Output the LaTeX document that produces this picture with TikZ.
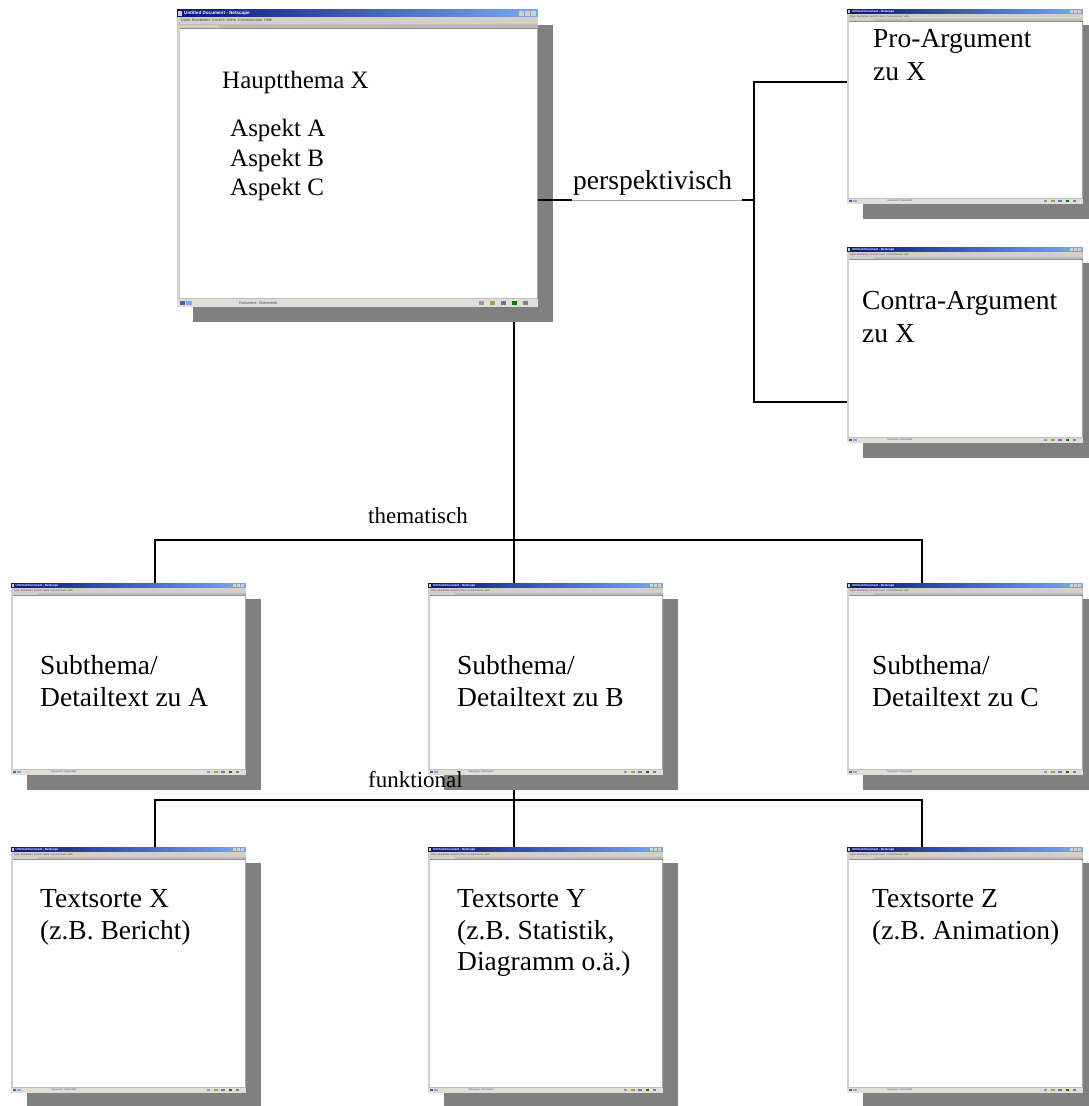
\documentclass[tikz,border=0pt]{standalone}
\usepackage{fontspec}
\setmainfont{Liberation Serif}
\newfontfamily\uifont{Liberation Sans}
\usetikzlibrary{calc,shadows,backgrounds}

\definecolor{shadowgray}{RGB}{128,128,128}
\definecolor{ttlA}{RGB}{8,20,120}
\definecolor{ttlB}{RGB}{120,170,235}
\definecolor{menugray}{RGB}{212,208,200}
\definecolor{bargray}{RGB}{190,186,180}
\definecolor{edgegray}{RGB}{170,170,170}

\tikzset{
  win/.style={draw=edgegray, line width=0.5pt, fill=white, inner sep=0pt, anchor=north west,
    drop shadow={shadow xshift=16pt, shadow yshift=-16pt, fill=shadowgray, opacity=1}},
  lbl/.style={anchor=base west, inner sep=0pt, font=\fontsize{25}{30}\selectfont},
  wlbl/.style={anchor=base west, inner sep=0pt, font=\fontsize{27.5}{32}\selectfont},
  linklbl/.style={anchor=base west, inner sep=0pt, font=\fontsize{23}{28}\selectfont},
  conn/.style={line width=1.6pt, black},
  faint/.style={line width=0.8pt, gray!70},
  uitext/.style={anchor=west, inner sep=0pt},
}

% browser window decoration drawn on top of a window node
\newcommand\chrome[2]{%
  \pgfmathsetmacro\cs{#2}%
  \pgfmathsetmacro\tfs{4.6*#2}%
  \pgfmathsetmacro\mfs{3.8*#2}%
  % title bar
  \shade[left color=ttlA, right color=ttlB] (#1.north west) rectangle ($(#1.north east)+(0,8*\cs)$);
  \fill[menugray] ($(#1.north west)+(1*\cs,1.5*\cs)$) rectangle ++(4*\cs,5*\cs);
  \foreach \k in {1,2,3}
    \fill[menugray] ($(#1.north east)+(-\k*6*\cs-1*\cs,1.5*\cs)$) rectangle ++(5*\cs,5*\cs);
  \node[uitext, text=white, font=\uifont\bfseries\fontsize{\tfs}{\tfs}\selectfont]
    (#1-title) at ($(#1.north west)+(7*\cs,4*\cs)$) {Untitled Document - Netscape};
  % menu bar
  \fill[menugray] ($(#1.north west)+(0,8*\cs)$) rectangle ($(#1.north east)+(0,15*\cs)$);
  \node[uitext, text=black!70, font=\uifont\fontsize{\mfs}{\mfs}\selectfont]
    (#1-menu) at ($(#1.north west)+(4*\cs,11.5*\cs)$)
    {Datei\enspace Bearbeiten\enspace Ansicht\enspace Gehe\enspace Communicator\enspace Hilfe};
  % toolbar strip with tab
  \fill[bargray] ($(#1.north west)+(0,15*\cs)$) rectangle ($(#1.north east)+(0,19*\cs)$);
  \fill[menugray] ($(#1.north west)+(0,15.5*\cs)$) -- ++(40*\cs,0) -- ++(4*\cs,3.5*\cs) -- ++(-44*\cs,0) -- cycle;
  \draw[black!45, line width=0.4pt] ($(#1.north west)+(0,19*\cs)$) -- ($(#1.north east)+(0,19*\cs)$);
  % left frame
  \fill[menugray] ($(#1.north west)+(0,19*\cs)$) rectangle ($(#1.south west)+(3*\cs,0)$);
  % status bar
  \fill[menugray!70!white] ($(#1.south west)+(0,-8*\cs)$) rectangle (#1.south east);
  \draw[black!25, line width=0.4pt] ($(#1.south west)+(0,-8*\cs)$) -- ($(#1.south east)+(0,-8*\cs)$);
  \fill[ttlA!70] ($(#1.south west)+(3*\cs,-6*\cs)$) rectangle ++(5*\cs,4*\cs);
  \fill[ttlB] ($(#1.south west)+(9*\cs,-6*\cs)$) rectangle ++(6*\cs,4*\cs);
  \node[uitext, text=black!70, font=\uifont\fontsize{\mfs}{\mfs}\selectfont]
    (#1-status) at ($(#1.south west)+(62*\cs,-4*\cs)$) {Dokument: Übermittelt};
  \foreach \k/\c in {1/black!50,2/green!50!black,3/ttlA!60,4/yellow!60!black,5/black!40}
    \fill[\c] ($(#1.south east)+(-\k*11*\cs-4*\cs,-6*\cs)$) rectangle ++(5*\cs,4*\cs);
}

\begin{document}
\begin{tikzpicture}[x={(1pt,0)}, y={(0,-1pt)}]
\useasboundingbox (0,0) rectangle (1088,1106);

% windows
\node[win, minimum width=360pt, minimum height=297pt] (main) at (177,9) {};
\node[win, minimum width=235pt, minimum height=194pt] (pro) at (847,9) {};
\node[win, minimum width=235pt, minimum height=195pt] (contra) at (847,247) {};
\node[win, minimum width=234pt, minimum height=191pt] (subA) at (11,583) {};
\node[win, minimum width=234pt, minimum height=191pt] (subB) at (428,583) {};
\node[win, minimum width=235pt, minimum height=191pt] (subC) at (847,583) {};
\node[win, minimum width=234pt, minimum height=245pt] (txtX) at (11,847) {};
\node[win, minimum width=234pt, minimum height=245pt] (txtY) at (428,847) {};
\node[win, minimum width=235pt, minimum height=245pt] (txtZ) at (847,847) {};

\chrome{main}{1}
\chrome{pro}{0.65}
\chrome{contra}{0.65}
\chrome{subA}{0.65}
\chrome{subB}{0.65}
\chrome{subC}{0.65}
\chrome{txtX}{0.65}
\chrome{txtY}{0.65}
\chrome{txtZ}{0.65}

% junction points
\coordinate (pa) at (572,200);
\coordinate (pb) at (742,200);
\coordinate (pj) at (754,200);
\coordinate (bt) at (754,82);
\coordinate (bb) at (754,402);
\coordinate (t1) at (514,540);
\coordinate (hA) at (155,540);
\coordinate (hC) at (922,540);
\coordinate (t2) at (514,800);
\coordinate (fA) at (155,800);
\coordinate (fC) at (922,800);

% connectors behind the windows
\begin{scope}[on background layer]
  \draw[conn] (main.south -| t1) -- (subB.north -| t1);
  \draw[conn] (subB.south -| t2) -- (txtY.north -| t2);
\end{scope}

% perspective link
\draw[conn] (main.east |- pj) -- (pa);
\draw[faint] (pa) -- (pb);
\draw[conn] (pb) -- (pj);
\draw[conn] (pro.west |- bt) -- (bt) -- (bb) -- (contra.west |- bb);

% thematic branch
\draw[conn] (subA.north -| hA) -- (hA) -- (hC) -- (subC.north -| hC);
% functional branch
\draw[conn] (txtX.north -| fA) -- (fA) -- (fC) -- (txtZ.north -| fC);

% labels on links
\node[wlbl] (persp) at (573,189) {perspektivisch};
\node[linklbl] (them) at (368,523) {thematisch};
\node[linklbl] (funk) at (368,787) {funktional};

% window texts
\node[lbl] (hx) at (222,88) {Hauptthema X};
\node[lbl] (asa) at (230,136) {Aspekt A};
\node[lbl] (asb) at (230,166) {Aspekt B};
\node[lbl] (asc) at (230,195) {Aspekt C};

\node[wlbl] (pro1) at (873,47) {Pro-Argument};
\node[wlbl] (pro2) at (873,80) {zu X};
\node[wlbl] (con1) at (862,309) {Contra-Argument};
\node[wlbl] (con2) at (862,342) {zu X};

\node[wlbl] (sa1) at (40,674) {Subthema/};
\node[wlbl] (sa2) at (40,706) {Detailtext zu A};
\node[wlbl] (sb1) at (457,674) {Subthema/};
\node[wlbl] (sb2) at (457,706) {Detailtext zu B};
\node[wlbl] (sc1) at (872,674) {Subthema/};
\node[wlbl] (sc2) at (872,706) {Detailtext zu C};

\node[wlbl] (tx1) at (40,907) {Textsorte X};
\node[wlbl] (tx2) at (40,939) {(z.B. Bericht)};
\node[wlbl] (ty1) at (457,907) {Textsorte Y};
\node[wlbl] (ty2) at (457,939) {(z.B. Statistik,};
\node[wlbl] (ty3) at (457,970) {Diagramm o.ä.)};
\node[wlbl] (tz1) at (872,907) {Textsorte Z};
\node[wlbl] (tz2) at (872,939) {(z.B. Animation)};
\end{tikzpicture}
\end{document}
